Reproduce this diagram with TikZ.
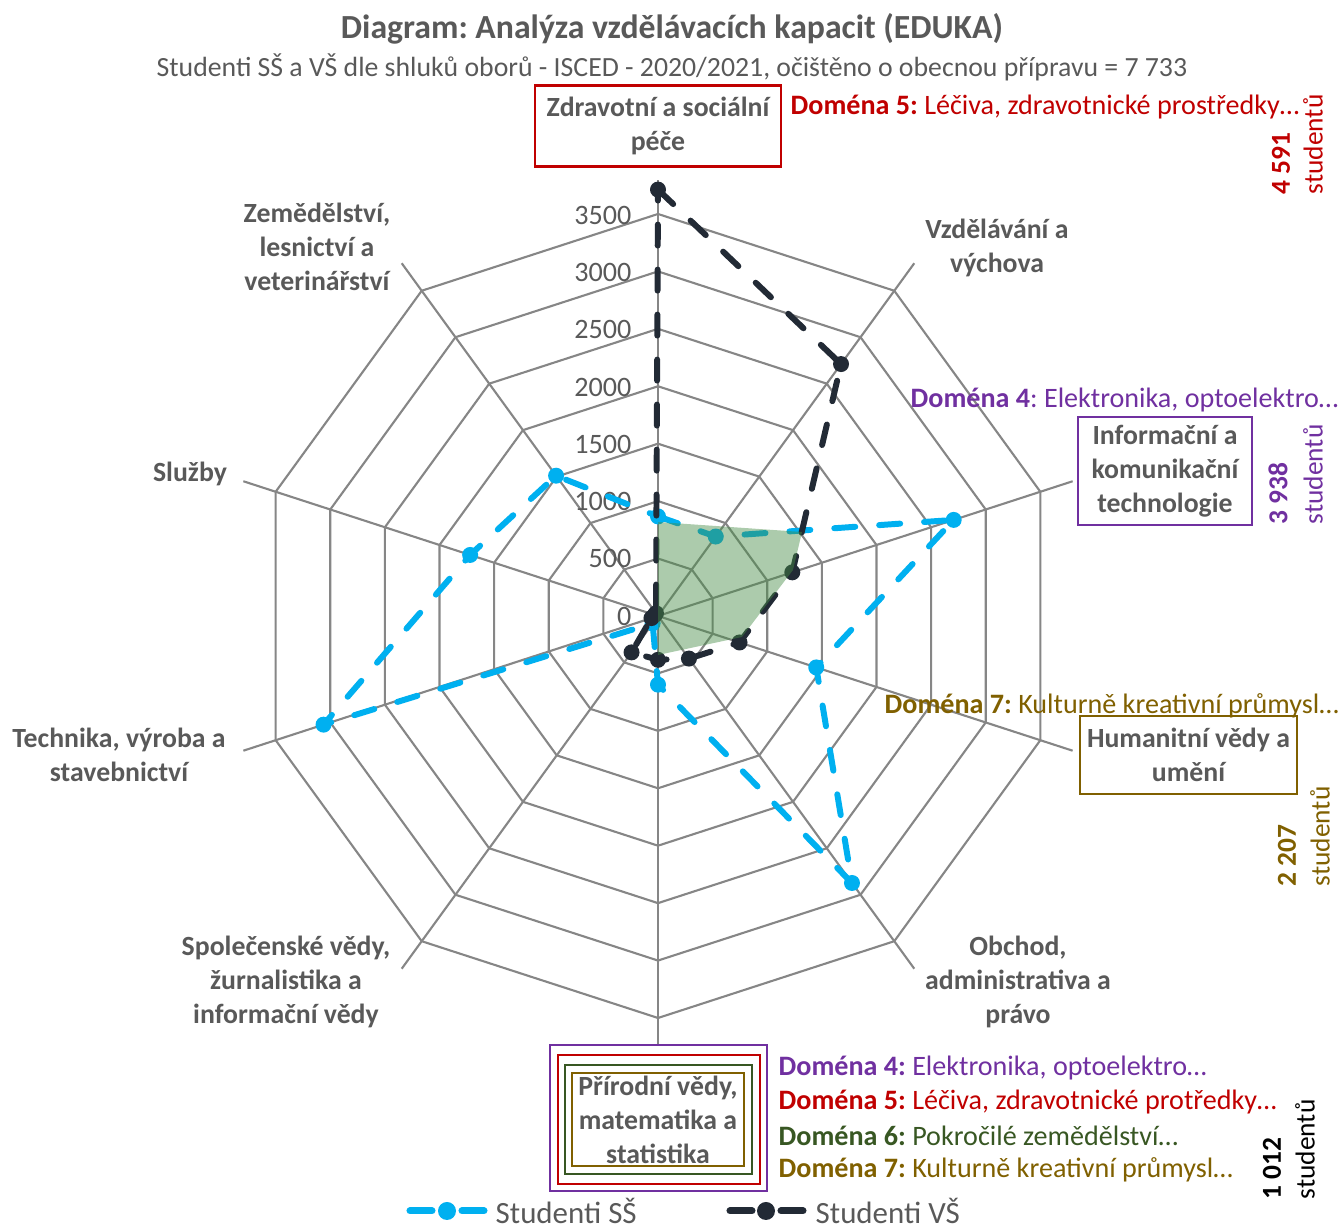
\documentclass[tikz,border=0pt]{standalone}
\usepackage{fontspec}
\setmainfont{Carlito}
\usepackage{xcolor}
\usepackage{tikz}
\usetikzlibrary{positioning}
\frenchspacing

\definecolor{gridgray}{RGB}{134,134,134}
\definecolor{txtgray}{RGB}{89,89,89}
\definecolor{ssblue}{RGB}{0,176,240}
\definecolor{vsdark}{RGB}{34,42,53}
\definecolor{domfour}{RGB}{112,48,160}
\definecolor{domfive}{RGB}{192,0,0}
\definecolor{domsix}{RGB}{56,87,35}
\definecolor{domseven}{RGB}{128,96,0}
\definecolor{areagreen}{RGB}{70,140,70}

\newcommand\titlefont{\fontsize{9.6pt}{11pt}\selectfont\bfseries}
\newcommand\subfont{\fontsize{7.9pt}{9pt}\selectfont}
\newcommand\catfont{\fontsize{7.9pt}{9.7pt}\selectfont\bfseries}
\newcommand\tickfont{\fontsize{8pt}{9pt}\selectfont}
\newcommand\domfont{\fontsize{8pt}{9pt}\selectfont}
\newcommand\cntfont{\fontsize{7.8pt}{9pt}\selectfont}
\newcommand\legfont{\fontsize{8.8pt}{10pt}\selectfont}

\begin{document}
\begin{tikzpicture}[
gridline/.style={draw=gridgray,line width=0.6pt},
sscurve/.style={draw=ssblue,line width=1.7pt,line cap=round,line join=round,dash pattern=on 2.1mm off 2.4mm},
vscurve/.style={draw=vsdark,line width=1.7pt,line cap=round,line join=round,dash pattern=on 2.1mm off 2.4mm},
ssdot/.style={circle,fill=ssblue,minimum size=1.6mm,inner sep=0pt},
vsdot/.style={circle,fill=vsdark,minimum size=1.6mm,inner sep=0pt},
catlabel/.style={align=center,text=txtgray,font=\catfont},
catbox/.style={catlabel,draw,line width=0.7pt,fill=white},
ticklabel/.style={anchor=east,text=txtgray,font=\tickfont,inner sep=0pt},
domlabel/.style={anchor=west,font=\domfont,inner sep=0pt},
countlabel/.style={rotate=90,anchor=west,font=\cntfont,inner sep=0pt},
leglabel/.style={anchor=west,text=txtgray,font=\legfont,inner sep=0pt}
]
\useasboundingbox (0,0) rectangle (13.38,12.27);
\node[font=\titlefont,text=txtgray] (title) at (6.72,11.98) {Diagram: Analýza vzdělávacích kapacit (EDUKA)};
\node[font=\subfont,text=txtgray] (subtitle) at (6.72,11.60) {Studenti SŠ a VŠ dle shluků oborů - ISCED - 2020/2021, očištěno o obecnou přípravu = 7 733};

\coordinate (C) at (6.58,6.11);

% web of the radar
\foreach \k in {1,...,7}
  \draw[gridline] ([shift={(C)}]90:\k*0.5743)
    \foreach \a in {54,18,...,-234} {-- ([shift={(C)}]\a:\k*0.5743)} -- cycle;
\foreach \a in {90,54,...,-234}
  \draw[gridline] (C) -- ([shift={(C)}]\a:4.36);
\foreach \v in {0,500,...,3500}
  \node[ticklabel] (tick\v) at ([shift={(C)}]-0.26,\v*0.0011486) {\v};

% Studenti SS
\foreach \v [count=\i from 0] in {870,858,2717,1454,2884,600,80,3073,1726,1515}
  \coordinate (s\i) at ([shift={(C)}]90-36*\i:\v*0.0011486);
\draw[sscurve] (s0) -- (s1) -- (s2) -- (s3) -- (s4) -- (s5) -- (s6) -- (s7) -- (s8) -- (s9) -- cycle;
\foreach \i in {0,...,9}
  \node[ssdot] (sdot\i) at (s\i) {};

% Studenti VS
\foreach \v [count=\i from 0] in {3726,2721,1234,749,460,383,393,60,30,30}
  \coordinate (v\i) at ([shift={(C)}]90-36*\i:\v*0.0011486);
\draw[vscurve] (v0) -- (v1) -- (v2) -- (v3) -- (v4) -- (v5) -- (v6) -- (v7) -- (v8) -- (v9) -- cycle;
\foreach \i in {0,...,9}
  \node[vsdot] (vdot\i) at (v\i) {};

% green area
\fill[areagreen,fill opacity=0.45] ([shift={(C)}]0,0.94) -- ([shift={(C)}]1.44,0.84) -- ([shift={(C)}]1.35,0.46)
  -- ([shift={(C)}]0.84,-0.21) -- ([shift={(C)}]0,-0.39) -- cycle;

% axis names
\node[catbox,draw=domfive,minimum width=2.38cm,minimum height=0.78cm] (zdrav) at (6.58,11.01) {Zdravotní a sociální\\péče};
\node[catlabel] (vzdel) at (9.97,9.79) {Vzdělávání a\\výchova};
\node[catbox,draw=domfour,minimum width=1.74cm,minimum height=1.08cm,inner sep=1pt] (infor) at (11.65,7.56) {Informační a\\komunikační\\technologie};
\node[catbox,draw=domseven,minimum width=2.17cm,minimum height=0.78cm,inner sep=1pt] (human) at (11.885,4.72) {Humanitní vědy a\\umění};
\node[catlabel] (obchod) at (10.18,2.45) {Obchod,\\administrativa a\\právo};
\node[catlabel] (spolec) at (2.86,2.45) {Společenské vědy,\\žurnalistika a\\informační vědy};
\node[catlabel] (techn) at (1.19,4.72) {Technika, výroba a\\stavebnictví};
\node[catlabel] (sluzby) at (1.90,7.53) {Služby};
\node[catlabel] (zemed) at (3.17,9.80) {Zemědělství,\\lesnictví a\\veterinářství};

\draw[domfour,line width=0.7pt,fill=white] (5.50,0.36) rectangle (7.67,1.82);
\draw[domfive,line width=0.7pt] (5.58,0.43) rectangle (7.60,1.72);
\draw[domsix,line width=0.7pt] (5.65,0.53) rectangle (7.52,1.62);
\draw[domseven,line width=0.7pt] (5.72,0.61) rectangle (7.44,1.54);
\node[catlabel,inner sep=0pt] (prirod) at (6.58,1.07) {Přírodní vědy,\\matematika a\\statistika};

% domains
\node[domlabel,text=domfive] (dfivetop) at (7.90,11.20) {\textbf{Doména 5:} Léčiva, zdravotnické prostředky…};
\node[domlabel,text=domfour] (dfourtop) at (9.10,8.27) {\textbf{Doména 4}: Elektronika, optoelektro…};
\node[domlabel,text=domseven] (dseventop) at (8.84,5.21) {\textbf{Doména 7:} Kulturně kreativní průmysl…};
\node[domlabel,text=domfour] (dfour) at (7.78,1.59) {\textbf{Doména 4:} Elektronika, optoelektro…};
\node[domlabel,text=domfive] (dfive) at (7.78,1.25) {\textbf{Doména 5:} Léčiva, zdravotnické protředky…};
\node[domlabel,text=domsix] (dsix) at (7.78,0.91) {\textbf{Doména 6:} Pokročilé zemědělství…};
\node[domlabel,text=domseven] (dseven) at (7.78,0.57) {\textbf{Doména 7:} Kulturně kreativní průmysl…};

% student counts
\node[countlabel,text=domfive] (nzdrav) at (12.81,10.32) {\textbf{4 591}};
\node[countlabel,text=domfive] (uzdrav) at (13.13,10.32) {studentů};
\node[countlabel,text=domfour] (ninfor) at (12.78,7.02) {\textbf{3 938}};
\node[countlabel,text=domfour] (uinfor) at (13.13,7.02) {studentů};
\node[countlabel,text=domseven] (nhuman) at (12.87,3.40) {\textbf{2 207}};
\node[countlabel,text=domseven] (uhuman) at (13.20,3.40) {studentů};
\node[countlabel,text=black] (nprirod) at (12.72,0.27) {\textbf{1 012}};
\node[countlabel,text=black] (uprirod) at (13.05,0.27) {studentů};

% legend
\node[ssdot,minimum size=1.8mm] (lsdot) at (4.47,0.16) {};
\coordinate (lsa) at (4.10,0.16);
\coordinate (lsb) at (4.84,0.16);
\draw[ssblue,line width=2pt,line cap=round] (lsa) -- ++(0.22,0);
\draw[ssblue,line width=2pt,line cap=round] (lsb) -- ++(-0.22,0);
\node[leglabel] (lstext) at (4.95,0.16) {Studenti SŠ};
\node[vsdot,minimum size=1.8mm] (lvdot) at (7.66,0.16) {};
\coordinate (lva) at (7.30,0.16);
\coordinate (lvb) at (8.03,0.16);
\draw[vsdark,line width=2pt,line cap=round] (lva) -- ++(0.22,0);
\draw[vsdark,line width=2pt,line cap=round] (lvb) -- ++(-0.22,0);
\node[leglabel] (lvtext) at (8.15,0.16) {Studenti VŠ};
\end{tikzpicture}
\end{document}
